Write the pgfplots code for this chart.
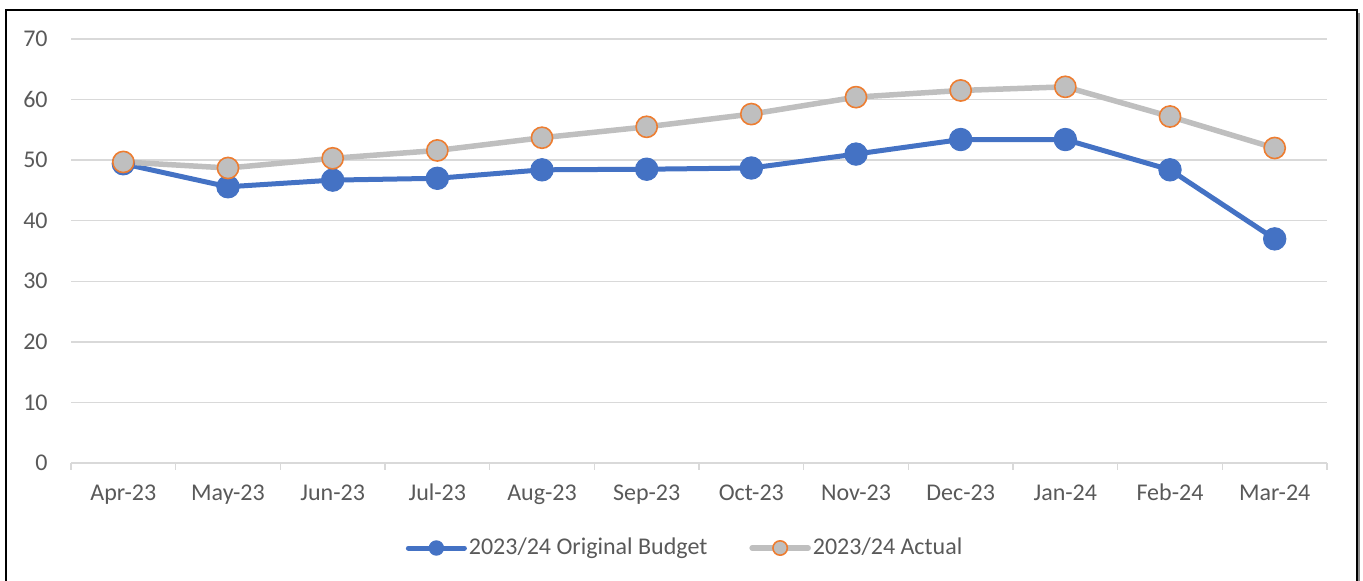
\documentclass[border=0pt]{standalone}
\usepackage{fontspec}
\setmainfont{Carlito}
\usepackage{pgfplots}
\pgfplotsset{compat=1.18}
\definecolor{cblue}{HTML}{4472C4}
\definecolor{cgray}{HTML}{BFBFBF}
\definecolor{corange}{HTML}{ED7D31}
\definecolor{cgrid}{HTML}{D9D9D9}
\definecolor{ctext}{HTML}{595959}
\begin{document}
\begin{tikzpicture}
\begin{axis}[
  at={(35.5pt,59pt)}, anchor=south west,
  scale only axis, width=628pt, height=212pt,
  xmin=-0.5, xmax=11.5, ymin=0, ymax=70,
  ytick={0,10,...,70},
  xtick={0,...,11},
  xticklabels={Apr-23,May-23,Jun-23,Jul-23,Aug-23,Sep-23,Oct-23,Nov-23,Dec-23,Jan-24,Feb-24,Mar-24},
  minor xtick={-0.5,0.5,...,11.5},
  major tick length=0pt, minor tick length=3.5pt,
  tick align=outside,
  axis lines*=left,
  y axis line style={draw=none},
  x axis line style={draw=cgrid, line width=0.75pt, -},
  ytick style={draw=none},
  xtick style={draw=none},
  minor x tick style={draw=cgrid, line width=0.75pt},
  ymajorgrids,
  grid style={draw=cgrid, line width=0.75pt},
  /pgf/number format/assume math mode=true,
  tick label style={font=\fontsize{12}{14}\selectfont, text=ctext},
  yticklabel style={inner sep=0pt, xshift=-11.5pt},
  xticklabel style={inner sep=0pt, anchor=base, yshift=-19pt},
  clip=false,
  legend columns=2,
  legend style={draw=none, fill=none, at={(0.4889,-0.2005)}, anchor=center,
    font=\fontsize{12}{14}\selectfont, text=ctext,
    /tikz/every even column/.append style={column sep=20pt},
    nodes={inner sep=1pt}},
  legend image code/.code={%
    \draw[mark repeat=2,mark phase=2,#1,mark size=3.6pt] plot coordinates {(0pt,0pt)(14pt,0pt)(28pt,0pt)};},
]
\addplot[cblue, line width=2.5pt, line cap=round, line join=round,
  mark=*, mark size=5.6pt, mark options={solid, fill=cblue, draw=cblue, line width=0.5pt}]
  coordinates {(0,49.4)(1,45.6)(2,46.7)(3,47.0)(4,48.4)(5,48.5)(6,48.7)(7,51.0)(8,53.4)(9,53.4)(10,48.4)(11,37.0)};
\addlegendentry{2023/24 Original Budget}
\addplot[cgray, line width=2.75pt, line cap=round, line join=round,
  mark=*, mark size=5.3pt, mark options={solid, fill=cgray, draw=corange, line width=0.8pt}]
  coordinates {(0,49.7)(1,48.7)(2,50.3)(3,51.6)(4,53.7)(5,55.5)(6,57.6)(7,60.4)(8,61.5)(9,62.1)(10,57.2)(11,52.0)};
\addlegendentry{2023/24 Actual}
\end{axis}
\draw[line width=1pt] (3pt,-5pt) -- (3pt,285.5pt) -- (678.5pt,285.5pt) -- (678.5pt,-5pt);
\draw[black!45, line width=1.2pt] (679.6pt,284pt) -- (679.6pt,-5pt);
\pgfresetboundingbox
\path[use as bounding box] (0pt,0pt) rectangle (681.5pt,290.5pt);
\end{tikzpicture}
\end{document}
